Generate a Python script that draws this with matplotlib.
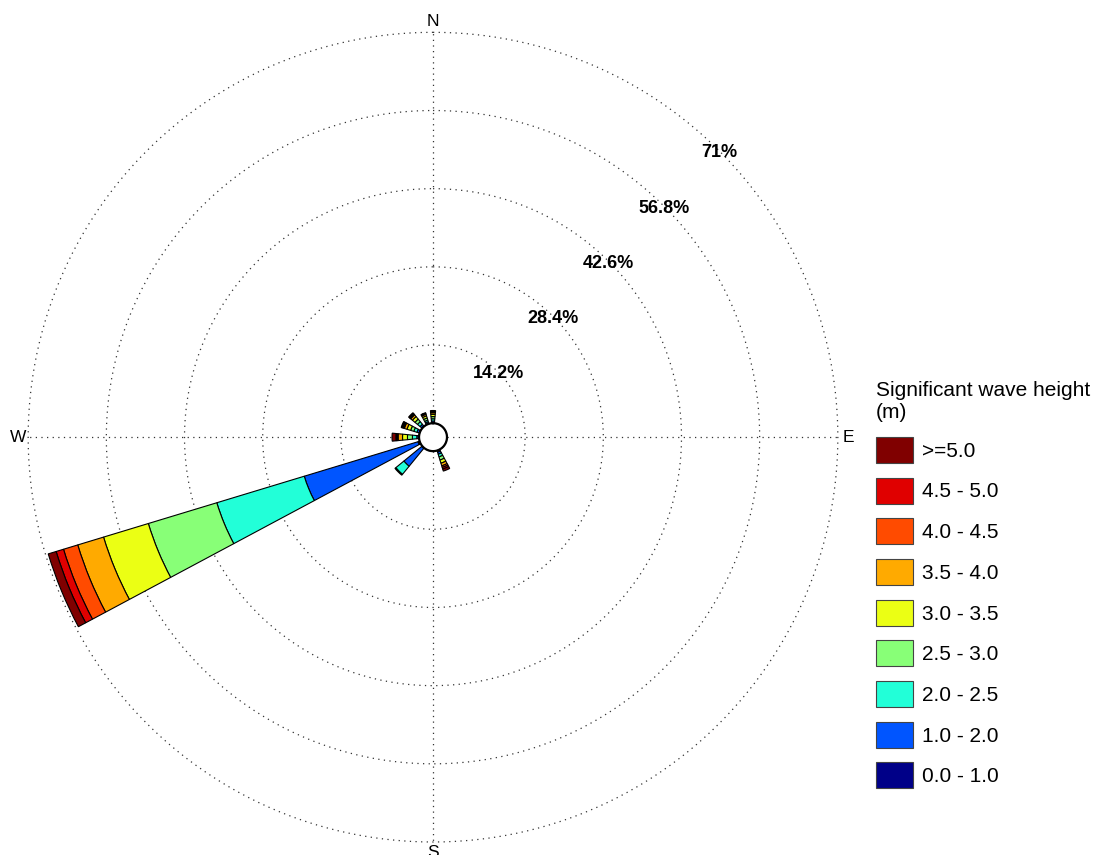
import numpy as np
import matplotlib
matplotlib.use("Agg")
import matplotlib.pyplot as plt
from matplotlib.patches import Patch

plt.rcParams['font.family'] = ['Liberation Sans', 'DejaVu Sans']

# 16 direction sectors (degrees, clockwise from north)
directions = ["N", "NNE", "NE", "ENE", "E", "ESE", "SE", "SSE",
              "S", "SSW", "SW", "WSW", "W", "WNW", "NW", "NNW"]
dir_deg = np.arange(16) * 22.5

# frequency (%) per wave-height bin, per direction
h_0_1   = [0.1, 0, 0, 0, 0, 0, 0, 0.3, 0, 0, 0.1, 0.3, 0.1, 0.1, 0.1, 0.1]
h_1_2   = [0.3, 0, 0, 0, 0, 0, 0, 0.4, 0, 0, 4.2, 21.6, 0.3, 0.4, 0.4, 0.3]
h_2_25  = [0.4, 0, 0, 0, 0, 0, 0, 0.5, 0, 0, 1.9, 16.6, 0.8, 0.6, 0.6, 0.3]
h_25_3  = [0.4, 0, 0, 0, 0, 0, 0, 0.6, 0, 0, 0.2, 13.0, 0.9, 0.6, 0.6, 0.4]
h_3_35  = [0.4, 0, 0, 0, 0, 0, 0, 0.6, 0, 0, 0, 8.5, 0.9, 0.7, 0.6, 0.4]
h_35_4  = [0.3, 0, 0, 0, 0, 0, 0, 0.5, 0, 0, 0, 4.9, 0.8, 0.5, 0.4, 0.3]
h_4_45  = [0.1, 0, 0, 0, 0, 0, 0, 0.3, 0, 0, 0, 2.7, 0.2, 0.2, 0.2, 0.1]
h_45_5  = [0.1, 0, 0, 0, 0, 0, 0, 0.3, 0, 0, 0, 1.4, 0.2, 0.2, 0.1, 0.1]
h_5p    = [0.2, 0, 0, 0, 0, 0, 0, 0.4, 0, 0, 0, 1.5, 0.7, 0.2, 0.2, 0.1]

bins = [h_0_1, h_1_2, h_2_25, h_25_3, h_3_35, h_35_4, h_4_45, h_45_5, h_5p]
bin_labels = ["0.0 - 1.0", "1.0 - 2.0", "2.0 - 2.5", "2.5 - 3.0", "3.0 - 3.5",
              "3.5 - 4.0", "4.0 - 4.5", "4.5 - 5.0", ">=5.0"]
bin_colors = ["#000088", "#0055FF", "#22FFD8", "#88FF77", "#EBFF14",
              "#FFAA00", "#FF4B00", "#E00000", "#800000"]

ring_values = [14.2, 28.4, 42.6, 56.8, 71]
ring_labels = ["14.2%", "28.4%", "42.6%", "56.8%", "71%"]
rmax = 71

fig = plt.figure(figsize=(10.99, 8.55), dpi=100)
ax = fig.add_axes([0.0255, 0.0152, 0.737, 0.947], projection='polar')
ax.set_theta_zero_location('N')
ax.set_theta_direction(-1)
ax.set_ylim(0, rmax)
ax.set_rorigin(-2.54)
ax.grid(False)
ax.set_xticks([])
ax.set_yticks([])
for sp in ax.spines.values():
    sp.set_visible(False)

grid_kw = dict(color='#333333', linewidth=0.9, linestyle=(0, (1, 3.5)), clip_on=False, zorder=1)
tt = np.linspace(0, 2 * np.pi, 721)
for rv in ring_values:
    ax.plot(tt, np.full_like(tt, rv), **grid_kw)
for a in [0, 90, 180, 270]:
    ax.plot([np.deg2rad(a)] * 2, [0, rmax], **grid_kw)

# stacked bars
theta = np.deg2rad(dir_deg)
width = np.deg2rad(11.25)
bottom = np.zeros(16)
for vals, col in zip(bins, bin_colors):
    v = np.asarray(vals, dtype=float)
    m = v > 0
    ax.bar(theta[m], v[m], width=width, bottom=bottom[m], color=col,
           edgecolor='black', linewidth=0.8, zorder=3)
    bottom += v

# hole outline
ax.plot(tt, np.zeros_like(tt), color='black', linewidth=1.6, clip_on=False, zorder=4)

# ring labels
for rv, lab in zip(ring_values, ring_labels):
    ax.text(np.deg2rad(45), rv, lab, ha='center', va='center_baseline', fontsize=13,
            fontweight='bold', zorder=5)

# compass labels
for lab, a in zip(["N", "E", "S", "W"], [0, 90, 180, 270]):
    ax.text(np.deg2rad(a), 72.9, lab, ha='center', va='center', fontsize=12.5,
            clip_on=False)

handles = [Patch(facecolor=c, edgecolor='#444444', linewidth=0.8)
           for c in bin_colors[::-1]]
leg = fig.legend(handles, bin_labels[::-1], loc='upper left',
                 bbox_to_anchor=(0.797, 0.554), frameon=False,
                 title="Significant wave height\n(m)", title_fontsize=15,
                 fontsize=15, handlelength=1.8, handleheight=1.55,
                 labelspacing=0.7, handletextpad=0.4, borderpad=0,
                 borderaxespad=0, alignment='left')

fig.savefig("out.png", dpi=100)
